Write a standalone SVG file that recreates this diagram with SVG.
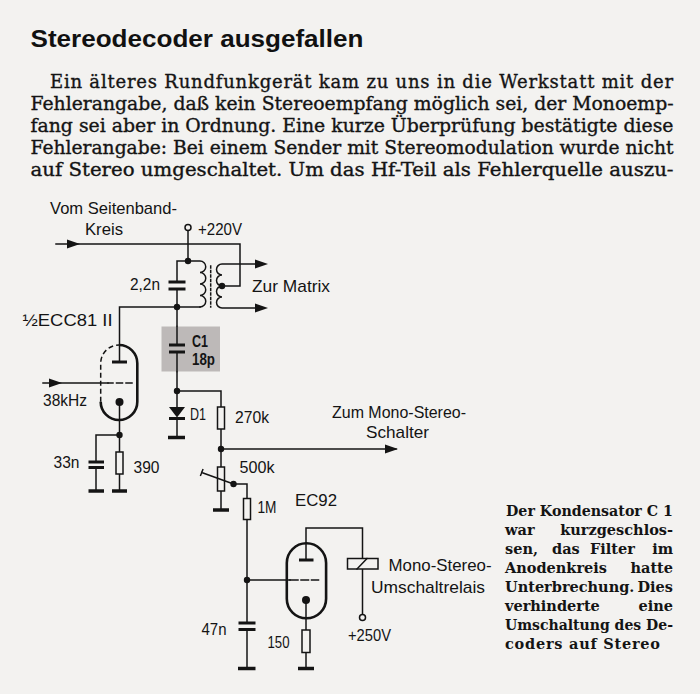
<svg xmlns="http://www.w3.org/2000/svg" width="700" height="694" viewBox="0 0 700 694">
<defs>
<style>
.bg{fill:#f3f2f0}
.w{fill:none;stroke:#141414;stroke-width:1.5;stroke-linecap:square}
.thick{fill:none;stroke:#141414;stroke-width:2.6}
.plate{fill:none;stroke:#141414;stroke-width:3}
.gnd{fill:none;stroke:#141414;stroke-width:3.5}
.res{fill:#f3f2f0;stroke:#141414;stroke-width:1.5}
.dot{fill:#141414}
.open{fill:#f3f2f0;stroke:#141414;stroke-width:1.5}
.dash{fill:none;stroke:#141414;stroke-width:1.5;stroke-dasharray:5 3}
.lbl{font-family:"Liberation Sans",Arial,sans-serif;font-size:17px;fill:#141414}
.para{font-family:"DejaVu Serif","Liberation Serif",serif;font-size:18px;fill:#141414;stroke:#141414;stroke-width:0.35}
.cap{font-family:"DejaVu Serif","Liberation Serif",serif;font-size:14.5px;font-weight:bold;fill:#141414}
.title{font-family:"Liberation Sans",Arial,sans-serif;font-size:23px;font-weight:bold;fill:#111}
</style>
<path id="ah" d="M0,0 L-13,-4.5 L-13,4.5 Z" fill="#141414"/>
</defs>
<rect class="bg" x="0" y="0" width="700" height="694"/>

<g id="heading">
<text class="title" x="30.5" y="47" textLength="333" lengthAdjust="spacingAndGlyphs">Stereodecoder ausgefallen</text>
</g>

<g id="paragraph">
<text class="para" x="50" y="88" textLength="623" lengthAdjust="spacing">Ein älteres Rundfunkgerät kam zu uns in die Werkstatt mit der</text>
<text class="para" x="30.5" y="110" textLength="643" lengthAdjust="spacingAndGlyphs">Fehlerangabe, daß kein Stereoempfang möglich sei, der Monoemp-</text>
<text class="para" x="30.5" y="132" textLength="643" lengthAdjust="spacingAndGlyphs">fang sei aber in Ordnung. Eine kurze Überprüfung bestätigte diese</text>
<text class="para" x="30.5" y="154" textLength="643" lengthAdjust="spacingAndGlyphs">Fehlerangabe: Bei einem Sender mit Stereomodulation wurde nicht</text>
<text class="para" x="30.5" y="176" textLength="643" lengthAdjust="spacingAndGlyphs">auf Stereo umgeschaltet. Um das Hf-Teil als Fehlerquelle auszu-</text>
</g>

<g id="connectors">
<path class="w" d="M56,244 H240 V286 H222"/>
<path class="w" d="M188,230.5 V261"/>
<path class="w" d="M188,261 H177 V282 M177,289 V307"/>
<path class="w" d="M200,307 H119.5 V362"/>
<path class="w" d="M177,307 V345 M177,352 V391"/>
<path class="w" d="M177,391 V407 M177,418 V437"/>
<path class="w" d="M177,391 H221 V407 M221,429 V467 M221,491 V510"/>
<path class="w" d="M221,449 H396"/>
<path class="w" d="M233.5,484 H247 V498.5 M247,519.5 V623 M247,629.5 V668"/>
<path class="w" d="M247,580 H290"/>
<path class="w" d="M306,560 V528 H362.5 V558.5 M362.5,569 V614.5"/>
<path class="w" d="M306,600 V630 M306,652.5 V668"/>
<path class="w" d="M43,383 H108"/>
<path class="w" d="M119.5,402 V452 M119.5,474 V490 M119.5,435 H96 V462 M96,467.5 V490"/>
<use href="#ah" transform="translate(80,244)"/>
<use href="#ah" transform="translate(62,383)"/>
<use href="#ah" transform="translate(398,449)"/>
</g>

<g id="supply-220">
<circle class="open" cx="188" cy="227.5" r="3"/>
<text class="lbl" x="198" y="235" textLength="44" lengthAdjust="spacingAndGlyphs">+220V</text>
<circle class="dot" cx="188" cy="261" r="3.2"/>
</g>

<g id="input-label">
<text class="lbl" x="50" y="214" textLength="127" lengthAdjust="spacingAndGlyphs">Vom Seitenband-</text>
<text class="lbl" x="85" y="235" textLength="38" lengthAdjust="spacingAndGlyphs">Kreis</text>
</g>

<g id="cap-2n2">
<path class="plate" d="M168.5,282 H185.5 M168.5,289 H185.5"/>
<text class="lbl" x="130" y="290" textLength="30" lengthAdjust="spacingAndGlyphs">2,2n</text>
<circle class="dot" cx="177" cy="307" r="3.2"/>
</g>

<g id="transformer">
<path class="w" d="M188,261 H200 a5.7,5.7 0 0 1 0,11.5 a5.7,5.7 0 0 1 0,11.5 a5.7,5.7 0 0 1 0,11.5 a5.7,5.7 0 0 1 0,11.5"/>
<path class="w" stroke-dasharray="2 2.5" stroke-width="2" d="M210.7,266 V307"/>
<path class="w" d="M256,264 H222 a5.5,5.5 0 0 0 0,11 a5.5,5.5 0 0 0 0,11 a5.5,5.5 0 0 0 0,11 a5.5,5.5 0 0 0 0,11 H256"/>
<use href="#ah" transform="translate(268,264)"/>
<use href="#ah" transform="translate(268,308)"/>
<circle class="dot" cx="222" cy="286" r="3.2"/>
<text class="lbl" x="252" y="292" textLength="78" lengthAdjust="spacingAndGlyphs">Zur Matrix</text>
</g>

<g id="ecc81">
<text class="lbl" x="22.5" y="326" textLength="90" lengthAdjust="spacingAndGlyphs">½ECC81 II</text>
<path class="thick" d="M119,345 A18.3,18.3 0 0 1 137.3,363.3 V401.7 A18.3,18.3 0 0 1 100.7,401.7"/>
<path class="dash" d="M100.7,401.7 V363.3 A18.3,18.3 0 0 1 119,345"/>
<path class="plate" stroke-width="2.2" d="M112,362 H127"/>
<path class="w" stroke-width="2.2" d="M108,383 H113 M116.5,383 H122.5 M126,383 H132"/>
<circle class="dot" cx="119.5" cy="402" r="4"/>
<text class="lbl" x="43" y="406" textLength="44" lengthAdjust="spacingAndGlyphs">38kHz</text>
<circle class="dot" cx="119.5" cy="435" r="3.2"/>
</g>

<g id="cap-33n">
<path class="plate" d="M88.5,462 H104 M88.5,467.5 H104"/>
<path class="gnd" d="M88.5,491 H104"/>
<text class="lbl" x="53.5" y="468" textLength="26" lengthAdjust="spacingAndGlyphs">33n</text>
</g>

<g id="res-390">
<rect class="res" x="116" y="452" width="7" height="22"/>
<path class="gnd" d="M112,491 H127"/>
<text class="lbl" x="133.5" y="473" textLength="26" lengthAdjust="spacingAndGlyphs">390</text>
</g>

<g id="c1">
<rect x="161.5" y="326.5" width="58.5" height="45" fill="#bdb9b8"/>
<path class="w" d="M177,326.5 V345 M177,352 V371.5"/>
<path class="plate" d="M169,345 H185 M169,352 H185"/>
<text class="lbl" x="192" y="347" font-weight="bold" textLength="16" lengthAdjust="spacingAndGlyphs">C1</text>
<text class="lbl" x="192" y="365" font-weight="bold" textLength="23" lengthAdjust="spacingAndGlyphs">18p</text>
</g>

<g id="d1">
<circle class="dot" cx="177" cy="391" r="3.2"/>
<polygon points="169,407 185,407 177,417.5" fill="#141414"/>
<path class="plate" stroke-width="2.4" d="M169,418.5 H185"/>
<path class="gnd" d="M168,437.5 H185"/>
<text class="lbl" x="190" y="420" textLength="16" lengthAdjust="spacingAndGlyphs">D1</text>
</g>

<g id="res-270k">
<rect class="res" x="217.5" y="407" width="7" height="22"/>
<text class="lbl" x="235" y="423" textLength="34" lengthAdjust="spacingAndGlyphs">270k</text>
<circle class="dot" cx="221" cy="449" r="3.2"/>
</g>

<g id="out-mono">
<text class="lbl" x="332" y="418" textLength="134" lengthAdjust="spacingAndGlyphs">Zum Mono-Stereo-</text>
<text class="lbl" x="366" y="438" textLength="63" lengthAdjust="spacingAndGlyphs">Schalter</text>
</g>

<g id="pot-500k">
<rect class="res" x="217.5" y="467" width="7" height="24"/>
<path class="w" d="M201.7,472.5 L233.5,484 M200.6,475.4 L202.8,469.6"/>
<circle class="dot" cx="233.5" cy="484" r="3.2"/>
<path class="gnd" d="M213,510 H229"/>
<text class="lbl" x="239.5" y="473" textLength="35" lengthAdjust="spacingAndGlyphs">500k</text>
</g>

<g id="res-1m">
<rect class="res" x="243.5" y="498.5" width="7" height="21"/>
<text class="lbl" x="257.5" y="513" textLength="19" lengthAdjust="spacingAndGlyphs">1M</text>
<circle class="dot" cx="247" cy="580" r="3.2"/>
</g>

<g id="cap-47n">
<path class="plate" d="M238.5,623 H255.5 M238.5,629.5 H255.5"/>
<path class="gnd" d="M238,668.5 H255.5"/>
<text class="lbl" x="201.5" y="635" textLength="25" lengthAdjust="spacingAndGlyphs">47n</text>
</g>

<g id="ec92">
<text class="lbl" x="295" y="506" font-size="18" textLength="42" lengthAdjust="spacingAndGlyphs">EC92</text>
<rect class="thick" x="286.8" y="543.3" width="39.3" height="75" rx="19.65" ry="19.65"/>
<path class="plate" stroke-width="2.2" d="M299,560 H313.5"/>
<path class="w" stroke-width="2.2" d="M290,580 H298 M301,580 H308.5 M311.5,580 H318.5"/>
<circle class="dot" cx="306" cy="600" r="4"/>
</g>

<g id="res-150">
<rect class="res" x="302" y="630" width="8" height="22.5"/>
<path class="gnd" d="M298,668.5 H314"/>
<text class="lbl" x="267.5" y="648" textLength="22" lengthAdjust="spacingAndGlyphs">150</text>
</g>

<g id="relay">
<rect class="res" x="347.5" y="558.5" width="30.5" height="10.5"/>
<path class="w" d="M357,569 L367,558.5"/>
<text class="lbl" x="388.5" y="571" textLength="103" lengthAdjust="spacingAndGlyphs">Mono-Stereo-</text>
<text class="lbl" x="371" y="593" textLength="114" lengthAdjust="spacingAndGlyphs">Umschaltrelais</text>
</g>

<g id="supply-250">
<circle class="open" cx="362.5" cy="617.5" r="3"/>
<text class="lbl" x="348" y="641" textLength="43" lengthAdjust="spacingAndGlyphs">+250V</text>
</g>

<g id="caption">
<text class="cap" x="506" y="516" textLength="167" lengthAdjust="spacingAndGlyphs">Der Kondensator C 1</text>
<text class="cap" y="535"><tspan x="505">war </tspan><tspan x="673" text-anchor="end">kurzgeschlos-</tspan></text>
<text class="cap" y="553.5"><tspan x="505">sen, </tspan><tspan x="552">das </tspan><tspan x="590">Filter </tspan><tspan x="673" text-anchor="end">im</tspan></text>
<text class="cap" y="572.5"><tspan x="505">Anodenkreis </tspan><tspan x="673" text-anchor="end">hatte</tspan></text>
<text class="cap" y="591.5"><tspan x="505">Unterbrechung. </tspan><tspan x="673" text-anchor="end">Dies</tspan></text>
<text class="cap" y="610.5"><tspan x="505">verhinderte </tspan><tspan x="673" text-anchor="end">eine</tspan></text>
<text class="cap" x="505" y="629.5" textLength="168" lengthAdjust="spacingAndGlyphs">Umschaltung des De-</text>
<text class="cap" x="505" y="648.5" textLength="155" lengthAdjust="spacing">coders auf Stereo</text>
</g>
</svg>
